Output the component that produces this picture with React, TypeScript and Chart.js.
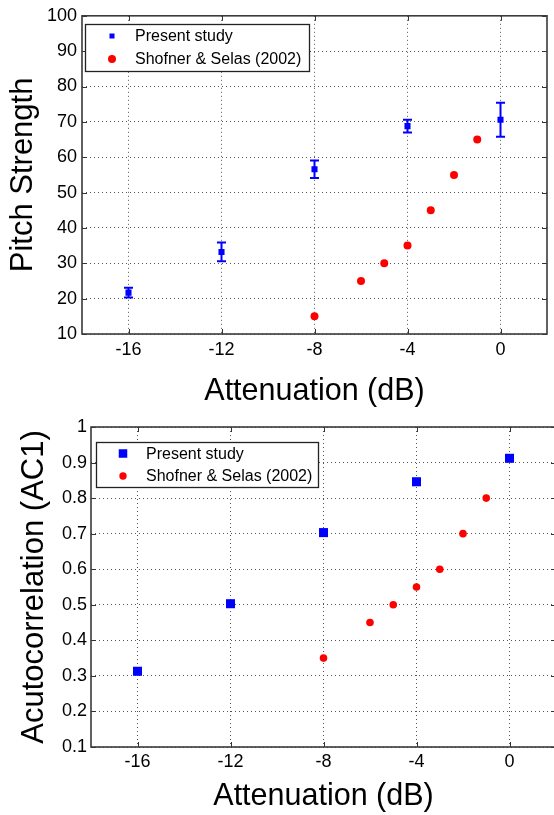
import React, { useEffect, useRef } from 'react';
import { Chart, registerables } from 'chart.js';

Chart.register(...registerables);

// ---------- data ----------
const xTickValues = [-16, -12, -8, -4, 0];
const xTickLabels = ['-16', '-12', '-8', '-4', '0'];
const seriesLabels = ['Present study', 'Shofner & Selas (2002)'];

const presentX = [-16, -12, -8, -4, 0];
const presentPitch = [21.7, 33.2, 56.6, 68.8, 70.6];
const presentPitchErr = [1.35, 2.65, 2.45, 1.8, 4.8];
const shofnerX = [-8, -6, -5, -4, -3, -2, -1];
const shofnerPitch = [15, 25, 30, 35, 45, 55, 65];

const presentAC1 = [0.313, 0.503, 0.703, 0.846, 0.912];
const shofnerAC1 = [0.35, 0.45, 0.5, 0.55, 0.6, 0.7, 0.8];

const pitchTicks = [10, 20, 30, 40, 50, 60, 70, 80, 90, 100];
const pitchTickLabels = ['10', '20', '30', '40', '50', '60', '70', '80', '90', '100'];
const ac1Ticks = [0.1, 0.2, 0.3, 0.4, 0.5, 0.6, 0.7, 0.8, 0.9, 1];
const ac1TickLabels = ['0.1', '0.2', '0.3', '0.4', '0.5', '0.6', '0.7', '0.8', '0.9', '1'];

const xTitle = 'Attenuation (dB)';
const pitchTitle = 'Pitch Strength';
const ac1Title = 'Acutocorrelation (AC1)';

const FONT = '"Liberation Sans", Arial, Helvetica, sans-serif';
Chart.defaults.font.family = FONT;

// ---------- plugin: matlab-like frame, inner ticks, error bars, legend ----------
const matlabPlugin = {
  id: 'matlab',
  beforeDatasetsDraw(chart: any, _a: any, opts: any) {
    const errs: number[] | undefined = opts.errors;
    if (!errs) return;
    const { ctx, scales } = chart;
    const ds = chart.data.datasets[0];
    ctx.save();
    ctx.strokeStyle = '#0000ff';
    ctx.lineWidth = 2;
    ds.data.forEach((d: any, i: number) => {
      const px = scales.x.getPixelForValue(d.x);
      const pt = scales.y.getPixelForValue(d.y + errs[i]);
      const pb = scales.y.getPixelForValue(d.y - errs[i]);
      const c = opts.cap;
      ctx.beginPath();
      ctx.moveTo(px, pt);
      ctx.lineTo(px, pb);
      ctx.moveTo(px - c, pt);
      ctx.lineTo(px + c, pt);
      ctx.moveTo(px - c, pb);
      ctx.lineTo(px + c, pb);
      ctx.stroke();
    });
    ctx.restore();
  },
  afterDraw(chart: any, _a: any, opts: any) {
    const { ctx, chartArea: a, scales } = chart;
    const xs = scales.x;
    const ys = scales.y;
    ctx.save();
    // inner ticks
    ctx.strokeStyle = '#333';
    ctx.lineWidth = 1;
    const tl = 5;
    ctx.beginPath();
    xs.ticks.forEach((t: any) => {
      const p = Math.round(xs.getPixelForValue(t.value)) + 0.5;
      ctx.moveTo(p, a.bottom);
      ctx.lineTo(p, a.bottom - tl);
      ctx.moveTo(p, a.top);
      ctx.lineTo(p, a.top + tl);
    });
    ys.ticks.forEach((t: any) => {
      const p = Math.round(ys.getPixelForValue(t.value)) + 0.5;
      ctx.moveTo(a.left, p);
      ctx.lineTo(a.left + tl, p);
      ctx.moveTo(a.right, p);
      ctx.lineTo(a.right - tl, p);
    });
    ctx.stroke();
    // frame
    ctx.strokeStyle = '#3a3a3a';
    ctx.lineWidth = 1.6;
    ctx.strokeRect(a.left, a.top, a.right - a.left, a.bottom - a.top);

    // legend
    const L = opts.legend;
    ctx.fillStyle = '#ffffff';
    ctx.fillRect(L.x, L.y, L.w, L.h);
    ctx.strokeStyle = '#222';
    ctx.lineWidth = 1.3;
    ctx.strokeRect(L.x + 0.5, L.y + 0.5, L.w, L.h);
    ctx.font = `${L.fontSize}px ${FONT}`;
    ctx.textBaseline = 'middle';
    ctx.textAlign = 'left';
    chart.data.datasets.forEach((ds: any, i: number) => {
      const cy = L.rows[i];
      ctx.fillStyle = ds.backgroundColor;
      if (ds.pointStyle === 'rect') {
        const s = L.square;
        ctx.fillRect(L.markerX - s / 2, cy - s / 2, s, s);
      } else {
        ctx.beginPath();
        ctx.arc(L.markerX, cy, L.circle, 0, Math.PI * 2);
        ctx.fill();
      }
      ctx.fillStyle = '#000';
      ctx.fillText(ds.label, L.textX, cy + 1);
    });
    ctx.restore();
  },
};

type Params = {
  presentY: number[];
  shofnerY: number[];
  errors?: number[];
  yTicks: number[];
  yTickLabels: string[];
  yMin: number;
  yMax: number;
  yTitle: string;
  yTitleSize: number;
  yTitlePad: number;
  yAxisWidth: number;
  yTickPad: number;
  xAxisHeight: number;
  xTickPad: number;
  xTitlePad: number;
  padTop: number;
  padRight: number;
  squareRadius: number;
  circleRadius: number;
  legend: any;
};

function buildConfig(p: Params): any {
  return {
    type: 'scatter',
    data: {
      datasets: [
        {
          label: seriesLabels[0],
          data: presentX.map((x, i) => ({ x, y: p.presentY[i] })),
          pointStyle: 'rect',
          pointRadius: p.squareRadius,
          backgroundColor: '#0000ff',
          borderColor: '#0000ff',
          borderWidth: 0,
          showLine: false,
        },
        {
          label: seriesLabels[1],
          data: shofnerX.map((x, i) => ({ x, y: p.shofnerY[i] })),
          pointStyle: 'circle',
          pointRadius: p.circleRadius,
          backgroundColor: '#ff0000',
          borderColor: '#ff0000',
          borderWidth: 0,
          showLine: false,
        },
      ],
    },
    options: {
      animation: false,
      responsive: false,
      events: [],
      layout: { padding: { top: p.padTop, right: p.padRight, left: 0, bottom: 0 } },
      plugins: {
        legend: { display: false },
        tooltip: { enabled: false },
        matlab: { errors: p.errors, cap: 4.5, legend: p.legend },
      },
      scales: {
        x: {
          type: 'linear',
          min: -18,
          max: 2,
          afterBuildTicks: (s: any) => {
            s.ticks = xTickValues.map((v) => ({ value: v }));
          },
          afterFit: (s: any) => {
            s.height = p.xAxisHeight;
          },
          ticks: {
            autoSkip: false,
            maxRotation: 0,
            padding: p.xTickPad,
            color: '#000',
            font: { size: 18 },
            callback: (_v: any, i: number) => xTickLabels[i],
          },
          grid: { color: '#555', lineWidth: 1, drawTicks: false },
          border: { display: false, dash: [1, 3] },
          title: {
            display: true,
            text: xTitle,
            color: '#000',
            font: { size: 30.5 },
            padding: { top: 0, bottom: p.xTitlePad },
          },
        },
        y: {
          type: 'linear',
          min: p.yMin,
          max: p.yMax,
          afterBuildTicks: (s: any) => {
            s.ticks = p.yTicks.map((v) => ({ value: v }));
          },
          afterFit: (s: any) => {
            s.width = p.yAxisWidth;
          },
          ticks: {
            autoSkip: false,
            padding: p.yTickPad,
            color: '#000',
            font: { size: 18 },
            callback: (_v: any, i: number) => p.yTickLabels[i],
          },
          grid: { color: '#555', lineWidth: 1, drawTicks: false },
          border: { display: false, dash: [1, 3] },
          title: {
            display: true,
            text: p.yTitle,
            color: '#000',
            font: { size: p.yTitleSize },
            padding: { top: p.yTitlePad, bottom: 0 },
          },
        },
      },
    },
    plugins: [matlabPlugin],
  };
}

const topParams: Params = {
  presentY: presentPitch,
  shofnerY: shofnerPitch,
  errors: presentPitchErr,
  yTicks: pitchTicks,
  yTickLabels: pitchTickLabels,
  yMin: 10,
  yMax: 100,
  yTitle: pitchTitle,
  yTitleSize: 31,
  yTitlePad: 4.5,
  yAxisWidth: 82,
  yTickPad: 5,
  xAxisHeight: 76,
  xTickPad: 5.2,
  xTitlePad: 0,
  padTop: 12,
  padRight: 7,
  squareRadius: 4.3,
  circleRadius: 4,
  legend: { x: 85, y: 24, w: 224, h: 47, markerX: 112, textX: 135, rows: [36, 59], square: 5, circle: 4, fontSize: 16 },
};

const bottomParams: Params = {
  presentY: presentAC1,
  shofnerY: shofnerAC1,
  yTicks: ac1Ticks,
  yTickLabels: ac1TickLabels,
  yMin: 0.1,
  yMax: 1,
  yTitle: ac1Title,
  yTitleSize: 31,
  yTitlePad: 15.9,
  yAxisWidth: 91,
  yTickPad: 4,
  xAxisHeight: 68,
  xTickPad: 4,
  xTitlePad: 0,
  padTop: 22,
  padRight: 14,
  squareRadius: 6.4,
  circleRadius: 3.8,
  legend: { x: 96, y: 37, w: 222, h: 45, markerX: 123, textX: 146, rows: [48.5, 71], square: 8.5, circle: 3.7, fontSize: 16 },
};

function ChartCanvas({ params, width, height, top }: { params: Params; width: number; height: number; top: number }) {
  const ref = useRef<HTMLCanvasElement | null>(null);
  useEffect(() => {
    if (!ref.current) return;
    const chart = new Chart(ref.current, buildConfig(params));
    return () => chart.destroy();
  }, [params]);
  return (
    <canvas
      ref={ref}
      width={width}
      height={height}
      style={{ position: 'absolute', left: 0, top, width, height, display: 'block' }}
    />
  );
}

export default function App() {
  return (
    <div
      style={{
        position: 'absolute',
        left: 0,
        top: 0,
        width: 554,
        height: 815,
        overflow: 'hidden',
        background: '#ffffff',
      }}
    >
      <ChartCanvas params={topParams} width={554} height={410} top={0} />
      <ChartCanvas params={bottomParams} width={570} height={410} top={405} />
    </div>
  );
}
